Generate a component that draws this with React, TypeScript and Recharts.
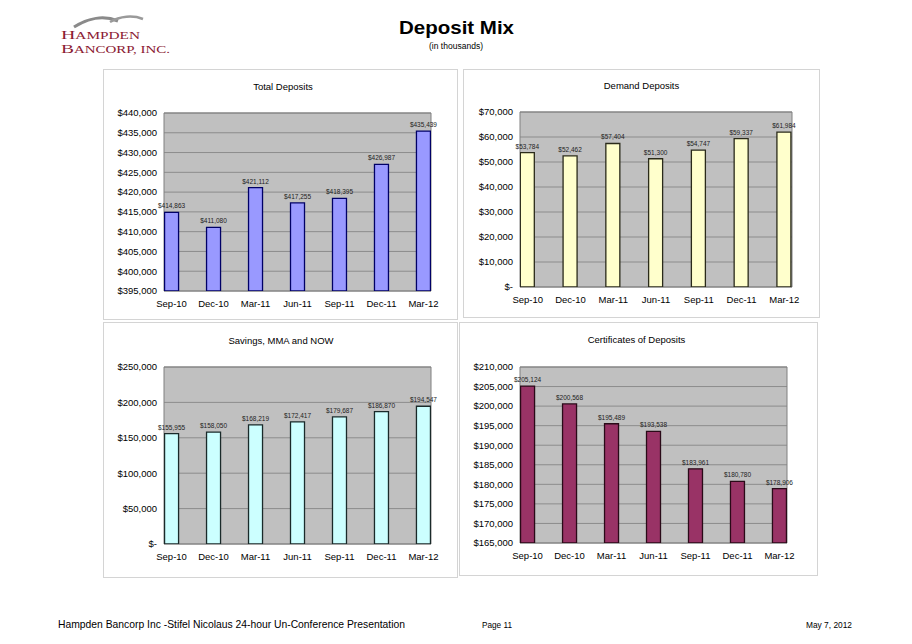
import React from 'react'
import { BarChart, Bar, XAxis, YAxis, CartesianGrid, LabelList, ReferenceArea } from 'recharts'

const quarters = ['Sep-10', 'Dec-10', 'Mar-11', 'Jun-11', 'Sep-11', 'Dec-11', 'Mar-12']

const totalDeposits = [414863, 411080, 421112, 417255, 418395, 426987, 435439]
const demandDeposits = [53784, 52462, 57404, 51300, 54747, 59337, 61984]
const savingsMmaNow = [155955, 158050, 168219, 172417, 179687, 186870, 194547]
const certificates = [205124, 200568, 195489, 193538, 183961, 180780, 178906]

const totalTicks = [395000, 400000, 405000, 410000, 415000, 420000, 425000, 430000, 435000, 440000]
const demandTicks = [0, 10000, 20000, 30000, 40000, 50000, 60000, 70000]
const savingsTicks = [0, 50000, 100000, 150000, 200000, 250000]
const cdTicks = [165000, 170000, 175000, 180000, 185000, 190000, 195000, 200000, 205000, 210000]

const FONT = "'Liberation Sans', Arial, Helvetica, sans-serif"
const SERIF = "'Liberation Serif', 'Times New Roman', serif"
const X_DOMAIN: [number, number] = [-0.18, 6.18]
const X_TICKS = [0, 1, 2, 3, 4, 5, 6]

const money = (v: number) => (v === 0 ? '$-' : '$' + v.toLocaleString('en-US'))

interface Box { x: number; y: number; w: number; h: number }
interface Plot { left: number; top: number; right: number; bottom: number }

interface PanelProps {
    values: number[]
    ticks: number[]
    fill: string
    stroke: string
    box: Box
    plot: Plot
}

function Panel({ values, ticks, fill, stroke, box, plot }: PanelProps) {
    const data = quarters.map((q, i) => ({ i, q, v: values[i] }))
    const yMin = ticks[0]
    const yMax = ticks[ticks.length - 1]
    return (
        <div style={{ position: 'absolute', left: box.x, top: box.y }}>
            <BarChart
                width={box.w}
                height={box.h}
                data={data}
                margin={{ top: plot.top - box.y, right: box.x + box.w - plot.right, bottom: 0, left: 0 }}
            >
                <CartesianGrid fill="#C0C0C0" fillOpacity={1} vertical={false} stroke="#8c8c8c" />
                <XAxis
                    type="number"
                    dataKey="i"
                    domain={X_DOMAIN}
                    allowDataOverflow
                    ticks={X_TICKS}
                    interval={0}
                    tickFormatter={(i: number) => quarters[i]}
                    height={box.y + box.h - plot.bottom}
                    axisLine={false}
                    tickLine={false}
                    tickSize={0}
                    tickMargin={9}
                    tick={{ fontSize: 9.5, fill: '#000', fontFamily: FONT }}
                />
                <YAxis
                    type="number"
                    domain={[yMin, yMax]}
                    allowDataOverflow
                    ticks={ticks}
                    interval={0}
                    tickFormatter={money}
                    width={plot.left - box.x}
                    axisLine={false}
                    tickLine={false}
                    tickSize={0}
                    tickMargin={7}
                    tick={{ fontSize: 9.5, fill: '#000', fontFamily: FONT }}
                />
                <Bar dataKey="v" fill={fill} stroke={stroke} strokeWidth={1.3} barSize={14} isAnimationActive={false}>
                    <LabelList
                        dataKey="v"
                        position="top"
                        offset={4}
                        formatter={(v: any) => money(Number(v))}
                        fontSize={6.5}
                        fill="#222"
                        fontFamily={FONT}
                    />
                </Bar>
                <ReferenceArea x1={X_DOMAIN[0]} x2={X_DOMAIN[1]} y1={yMin} y2={yMax} fill="none" stroke="#808080" />
            </BarChart>
        </div>
    )
}

export default function App() {
    return (
        <div style={{ position: 'absolute', left: 0, top: 0, width: 912, height: 644, background: '#fff', fontFamily: FONT }}>
            <svg width={912} height={644} style={{ position: 'absolute', left: 0, top: 0 }}>
                {/* logo */}
                <path d="M74 27 C 88 18, 104 15, 118 21" stroke="#8a8a8a" strokeWidth={3} fill="none" />
                <path d="M110 22 C 120 16, 133 15, 143 19" stroke="#9a9a9a" strokeWidth={2.5} fill="none" />
                <text x={61} y={38.5} fill="#8B1A33" fontFamily={SERIF} textLength={79} lengthAdjust="spacingAndGlyphs">
                    <tspan fontSize={13}>H</tspan>
                    <tspan fontSize={10}>AMPDEN</tspan>
                </text>
                <text x={61} y={53} fill="#8B1A33" fontFamily={SERIF} textLength={109} lengthAdjust="spacingAndGlyphs">
                    <tspan fontSize={13}>B</tspan>
                    <tspan fontSize={10}>ANCORP, INC.</tspan>
                </text>

                {/* header */}
                <text x={399} y={34} fontSize={18} fontWeight="bold" fontFamily={FONT} textLength={115} lengthAdjust="spacingAndGlyphs">Deposit Mix</text>
                <text x={429} y={48.5} fontSize={8.5} fontFamily={FONT} textLength={54} lengthAdjust="spacingAndGlyphs">(in thousands)</text>

                {/* panels */}
                <rect x={103.5} y={69.5} width={354} height={250} fill="#fff" stroke="#d4d4d4" />
                <rect x={463.5} y={69.5} width={356} height={248} fill="#fff" stroke="#d4d4d4" />
                <rect x={103.5} y={322.5} width={354} height={255} fill="#fff" stroke="#d4d4d4" />
                <rect x={459.5} y={322.5} width={358} height={253} fill="#fff" stroke="#d4d4d4" />

                <text x={283} y={89.5} fontSize={9.5} textAnchor="middle" fontFamily={FONT}>Total Deposits</text>
                <text x={641.5} y={88.5} fontSize={9.5} textAnchor="middle" fontFamily={FONT}>Demand Deposits</text>
                <text x={281} y={343.5} fontSize={9.5} textAnchor="middle" fontFamily={FONT}>Savings, MMA and NOW</text>
                <text x={636.5} y={342.5} fontSize={9.5} textAnchor="middle" fontFamily={FONT}>Certificates of Deposits</text>

                {/* footer */}
                <text x={58} y={628} fontSize={10.5} fontFamily={FONT} textLength={347} lengthAdjust="spacingAndGlyphs">Hampden Bancorp Inc -Stifel Nicolaus 24-hour Un-Conference Presentation</text>
                <text x={482} y={628} fontSize={9} fontFamily={FONT} textLength={30} lengthAdjust="spacingAndGlyphs">Page 11</text>
                <text x={806} y={628} fontSize={9} fontFamily={FONT} textLength={46} lengthAdjust="spacingAndGlyphs">May 7, 2012</text>
            </svg>

            <Panel
                values={totalDeposits}
                ticks={totalTicks}
                fill="#9999FF"
                stroke="#000066"
                box={{ x: 104, y: 70, w: 353, h: 249 }}
                plot={{ left: 164, top: 113, right: 431, bottom: 291 }}
            />
            <Panel
                values={demandDeposits}
                ticks={demandTicks}
                fill="#FFFFCC"
                stroke="#2a2a1a"
                box={{ x: 464, y: 70, w: 355, h: 247 }}
                plot={{ left: 520, top: 112, right: 792, bottom: 287 }}
            />
            <Panel
                values={savingsMmaNow}
                ticks={savingsTicks}
                fill="#CCFFFF"
                stroke="#1a2a2a"
                box={{ x: 104, y: 323, w: 353, h: 254 }}
                plot={{ left: 164, top: 367, right: 431, bottom: 544 }}
            />
            <Panel
                values={certificates}
                ticks={cdTicks}
                fill="#993366"
                stroke="#2a0a18"
                box={{ x: 460, y: 323, w: 357, h: 252 }}
                plot={{ left: 520, top: 367, right: 787, bottom: 543 }}
            />
        </div>
    )
}
